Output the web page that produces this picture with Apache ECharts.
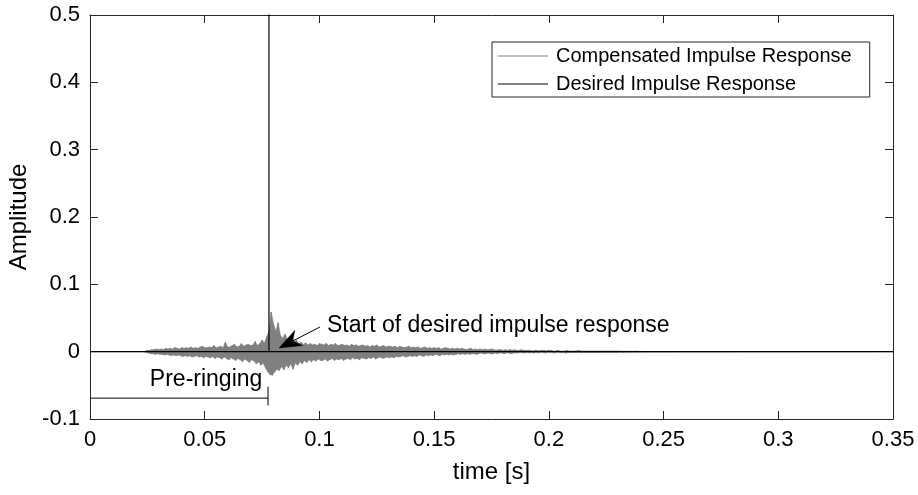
<!DOCTYPE html>
<html><head><meta charset="utf-8">
<script src="https://cdn.jsdelivr.net/npm/echarts@6/dist/echarts.min.js"></script>
<style>html,body{margin:0;padding:0;background:#fff}#c{width:918px;height:495px}</style>
</head><body><div id="c"></div>
<script>
// ---- data ----
const seriesNames = ['Compensated Impulse Response', 'Desired Impulse Response'];
const xTickValues = [0, 0.05, 0.1, 0.15, 0.2, 0.25, 0.3, 0.35];
const yTickValues = [-0.1, 0, 0.1, 0.2, 0.3, 0.4, 0.5];

// compensated response: sampled envelope (upper peak / lower trough per 1 ms bin)
const noiseStart = 0.024;
const noiseStep = 0.001;
const upperEnv = [
  0.001,0.002,0.002,0.003,0.003,0.004,0.003,
  0.004,0.003,0.005,0.004,0.005,0.004,0.006,0.005,0.004,0.006,
  0.005,0.006,0.005,0.007,0.005,0.006,0.005,0.007,0.008,0.006,
  0.006,0.007,0.006,0.009,0.006,0.007,0.008,0.006,0.014,0.007,
  0.007,0.009,0.011,0.007,0.008,0.012,0.008,0.010,0.011,0.009,
  0.010,0.015,0.009,0.012,0.017,0.013,0.022,0.030,
  0.059,0.041,0.030,0.043,0.024,0.020,0.026,0.018,0.016,0.022,0.015,0.017,
  0.012,0.014,0.011,0.013,0.010,0.012,0.010,0.011,0.009,0.012,
  0.011,0.010,0.012,0.009,0.011,0.010,0.012,0.009,0.010,0.011,
  0.009,0.010,0.008,0.011,0.009,0.010,0.008,0.009,0.010,0.008,
  0.009,0.007,0.009,0.008,0.010,0.007,0.008,0.009,0.007,0.008,
  0.008,0.007,0.008,0.006,0.008,0.007,0.006,0.007,0.008,0.006,
  0.007,0.006,0.007,0.005,0.006,0.007,0.005,0.006,0.005,0.006,
  0.005,0.006,0.004,0.005,0.006,0.005,0.004,0.005,0.004,0.005,
  0.004,0.005,0.004,0.003,0.004,0.005,0.003,0.004,0.003,0.004,
  0.003,0.004,0.003,0.003,0.004,0.003,0.002,0.003,0.003,0.002,
  0.003,0.002,0.003,0.002,0.003,0.002,0.002,0.003,0.002,0.002,
  0.002,0.002,0.001,0.002,0.002,0.001,0.002,0.002,0.001,0.002,
  0.002,0.001,0.001,0.002,0.001,0.001,0.001,0.002,0.001,0.001,
  0.001,0.001,0.002,0.001,0.001,0.001,0.001,0.001,0.001,0.001,
  0.001,0.001,0.001,0.001,0.001,0.001,0.001,0.001,0.001,0.001,
  0.001,0.0005,0.001,0.0005,0.001,0.0005,0.0005,0.001,0.0005,0.0005
];
const lowerEnv = [
  -0.001,-0.002,-0.003,-0.003,-0.004,-0.003,-0.004,
  -0.004,-0.005,-0.004,-0.005,-0.006,-0.005,-0.006,-0.005,-0.006,-0.007,
  -0.006,-0.007,-0.006,-0.008,-0.007,-0.006,-0.008,-0.007,-0.009,-0.007,
  -0.008,-0.009,-0.007,-0.010,-0.008,-0.009,-0.011,-0.008,-0.010,-0.012,
  -0.009,-0.011,-0.013,-0.010,-0.012,-0.015,-0.011,-0.013,-0.016,-0.012,
  -0.014,-0.018,-0.015,-0.020,-0.017,-0.024,-0.030,-0.034,
  -0.035,-0.030,-0.026,-0.028,-0.022,-0.027,-0.020,-0.024,-0.018,-0.026,-0.017,-0.020,
  -0.015,-0.018,-0.013,-0.016,-0.012,-0.015,-0.012,-0.014,-0.011,-0.013,
  -0.013,-0.011,-0.014,-0.012,-0.010,-0.013,-0.011,-0.012,-0.010,-0.013,
  -0.011,-0.010,-0.012,-0.009,-0.011,-0.010,-0.012,-0.009,-0.010,-0.011,
  -0.009,-0.010,-0.008,-0.011,-0.009,-0.008,-0.010,-0.009,-0.008,-0.009,
  -0.008,-0.009,-0.007,-0.008,-0.007,-0.006,-0.008,-0.007,-0.006,-0.007,
  -0.006,-0.007,-0.005,-0.006,-0.007,-0.005,-0.006,-0.005,-0.006,-0.004,
  -0.005,-0.006,-0.004,-0.005,-0.004,-0.005,-0.004,-0.005,-0.004,-0.003,
  -0.004,-0.003,-0.004,-0.003,-0.004,-0.003,-0.003,-0.004,-0.003,-0.002,
  -0.003,-0.003,-0.002,-0.003,-0.003,-0.002,-0.003,-0.002,-0.002,-0.003,
  -0.002,-0.002,-0.003,-0.002,-0.002,-0.002,-0.001,-0.002,-0.002,-0.001,
  -0.002,-0.001,-0.002,-0.001,-0.002,-0.001,-0.001,-0.002,-0.001,-0.001,
  -0.001,-0.002,-0.001,-0.001,-0.001,-0.001,-0.002,-0.001,-0.001,-0.001,
  -0.001,-0.001,-0.001,-0.001,-0.001,-0.001,-0.001,-0.001,-0.001,-0.001,
  -0.001,-0.001,-0.0005,-0.001,-0.001,-0.0005,-0.001,-0.0005,-0.001,-0.0005,
  -0.0005,-0.001,-0.0005,-0.0005,-0.0005,-0.0005,-0.0005,-0.0005,-0.0005,-0.0005
];

// desired response: single impulse
const impulseTime = 0.078;
const impulseHeight = 1;

// annotations (data coordinates)
const annoText = 'Start of desired impulse response';
const annoTextPos = [0.1033, 0.0382];
const arrowTail = [0.1003, 0.0367];
const arrowTip = [0.0824, 0.0055];
const preText = 'Pre-ringing';
const preTextPos = [0.0506, -0.042];
const bracketY = -0.069;
const bracketEnd = 0.0776;
const bracketTick = [-0.052, -0.08];

// ---- build ----
const xMin = 0, xMax = 0.35;
const compData = [[xMin, 0], [noiseStart - noiseStep / 2, 0]];
const upperBand = [], lowerBand = [];
for (let i = 0; i < upperEnv.length; i++) {
  const t = noiseStart + i * noiseStep;
  compData.push([t, upperEnv[i]]);
  compData.push([t + noiseStep / 2, lowerEnv[i]]);
  upperBand.push([t, upperEnv[i]]);
  lowerBand.push([t + noiseStep / 2, lowerEnv[i]]);
}
compData.push([noiseStart + upperEnv.length * noiseStep, 0], [xMax, 0]);
const desiredData = [[xMin, 0], [impulseTime, 0], [impulseTime, impulseHeight], [impulseTime, 0], [xMax, 0]];

const FONT = '"Liberation Sans", Arial, Helvetica, sans-serif';
const AX = '#262626';
const GREY = '#808080';
const chart = echarts.init(document.getElementById('c'), null, {renderer: 'canvas'});

const baseAxis = {
  type: 'value',
  axisLine: {show: true, onZero: false, lineStyle: {color: AX, width: 1}},
  axisTick: {show: true, inside: true, length: 8, lineStyle: {color: AX, width: 1}},
  splitLine: {show: false},
};
const bandSeries = (name, data) => ({
  name, type: 'line', data, symbol: 'none', showSymbol: false,
  lineStyle: {color: GREY, width: 0.6}, itemStyle: {color: GREY},
  areaStyle: {color: GREY, opacity: 1, origin: 0},
  clip: true, z: 2, silent: true, emphasis: {disabled: true}
});
chart.setOption({
  animation: false,
  backgroundColor: '#fff',
  grid: {left: 90, right: 25, top: 15, bottom: 76, outerBoundsMode: 'none', containLabel: false},
  xAxis: [
    Object.assign({}, baseAxis, {
      position: 'bottom', min: xMin, max: xMax, interval: 0.05,
      axisLabel: {color: '#000', fontSize: 22, fontFamily: FONT, margin: 10},
      name: 'time [s]', nameLocation: 'middle', nameGap: 41,
      nameTextStyle: {color: '#000', fontSize: 24, fontFamily: FONT}
    }),
    Object.assign({}, baseAxis, {position: 'top', min: xMin, max: xMax, interval: 0.05, axisLabel: {show: false}})
  ],
  yAxis: [
    Object.assign({}, baseAxis, {
      position: 'left', min: -0.1, max: 0.5, interval: 0.1,
      axisLabel: {color: '#000', fontSize: 22, fontFamily: FONT, margin: 10},
      name: 'Amplitude', nameLocation: 'middle', nameGap: 58,
      nameTextStyle: {color: '#000', fontSize: 24, fontFamily: FONT}
    }),
    Object.assign({}, baseAxis, {position: 'right', min: -0.1, max: 0.5, interval: 0.1, axisLabel: {show: false}})
  ],
  legend: {
    left: 492, top: 42, orient: 'vertical',
    backgroundColor: '#fff', borderColor: AX, borderWidth: 1, borderRadius: 0,
    padding: [4, 18, 3, 6], itemGap: 8,
    icon: 'rect', itemWidth: 50, itemHeight: 1,
    textStyle: {color: '#000', fontSize: 20, fontFamily: FONT, lineHeight: 20, padding: [0, 0, 0, 3]},
    data: seriesNames, selectedMode: false
  },
  series: [
    bandSeries('band+', upperBand),
    bandSeries('band-', lowerBand),
    {
      name: seriesNames[0], type: 'line', data: compData, symbol: 'none', showSymbol: false,
      lineStyle: {color: GREY, width: 1}, itemStyle: {color: GREY},
      clip: true, z: 2, emphasis: {disabled: true}
    },
    {
      name: seriesNames[1], type: 'line', data: desiredData, symbol: 'none', showSymbol: false,
      lineStyle: {color: '#000', width: 1.2}, itemStyle: {color: '#000'}, clip: true, z: 3,
      emphasis: {disabled: true}
    }
  ]
});

function px(p) { return chart.convertToPixel({gridIndex: 0}, p); }
const tail = px(arrowTail), tip = px(arrowTip);
const dx = tail[0] - tip[0], dy = tail[1] - tip[1];
const len = Math.hypot(dx, dy);
const ux = dx / len, uy = dy / len, nx = -uy, ny = ux;
const HL = 22, HW = 8.5;
const back = [tip[0] + ux * HL * 0.7, tip[1] + uy * HL * 0.7];
const w1 = [tip[0] + ux * HL + nx * HW, tip[1] + uy * HL + ny * HW];
const w2 = [tip[0] + ux * HL - nx * HW, tip[1] + uy * HL - ny * HW];
const tp = px(annoTextPos), pp = px(preTextPos);
const b0 = px([xMin, bracketY]), b1 = px([bracketEnd, bracketY]);
const k0 = px([bracketEnd, bracketTick[0]]), k1 = px([bracketEnd, bracketTick[1]]);

chart.setOption({
  graphic: [
    {type: 'line', shape: {x1: tail[0], y1: tail[1], x2: back[0], y2: back[1]}, style: {stroke: '#000', lineWidth: 1}, z: 10},
    {type: 'polygon', shape: {points: [tip, w1, back, w2]}, style: {fill: '#000', stroke: '#000', lineWidth: 0.5}, z: 10},
    {type: 'text', x: tp[0], y: tp[1], style: {text: annoText, fill: '#000', font: '23px ' + FONT, textAlign: 'left', textVerticalAlign: 'middle'}, z: 10},
    {type: 'text', x: pp[0], y: pp[1], style: {text: preText, fill: '#000', font: '23px ' + FONT, textAlign: 'center', textVerticalAlign: 'middle'}, z: 10},
    {type: 'line', shape: {x1: b0[0], y1: b0[1], x2: b1[0], y2: b1[1]}, style: {stroke: '#000', lineWidth: 1}, z: 10},
    {type: 'line', shape: {x1: k0[0], y1: k0[1], x2: k1[0], y2: k1[1]}, style: {stroke: '#000', lineWidth: 1}, z: 10}
  ]
});
</script>
</body></html>
